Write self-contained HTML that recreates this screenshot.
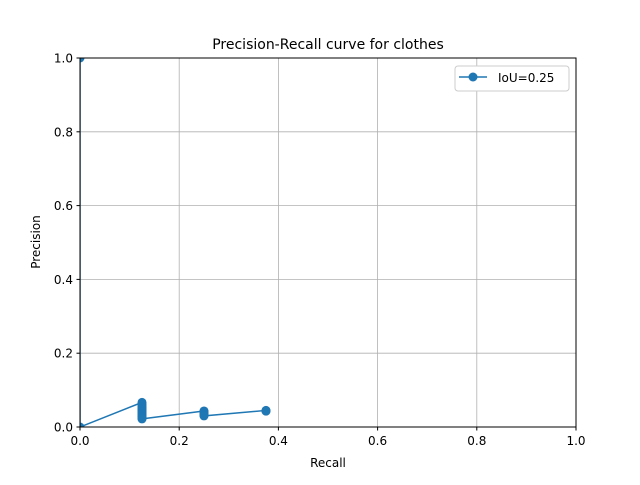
<!DOCTYPE html>
<html><head><meta charset="utf-8"><style>
body{margin:0;background:#fff}
svg{font-family:"DejaVu Sans","Liberation Sans",sans-serif}
</style></head><body>
<svg id="chart" width="640" height="480">
<defs><clipPath id="pc"><rect x="80" y="58" width="496" height="369"/></clipPath></defs>
<rect width="640" height="480" fill="#fff"/>
<g id="grid"></g>
<g id="ticks"></g>
<g id="series" clip-path="url(#pc)"></g>
<rect x="80" y="58" width="496" height="369" fill="none" stroke="#000" stroke-width="1"/>
<text x="328" y="49" text-anchor="middle" font-size="14">Precision-Recall curve for clothes</text>
<text x="328" y="467" text-anchor="middle" font-size="12">Recall</text>
<text transform="translate(40,242) rotate(-90)" text-anchor="middle" font-size="12">Precision</text>
<g>
<rect x="455" y="66" width="114" height="25" rx="3" fill="#fff" stroke="#ccc"/>
<line x1="459" y1="77" x2="487" y2="77" stroke="#1f77b4" stroke-width="1.5"/>
<circle cx="473" cy="77" r="4.5" fill="#1f77b4"/>
<text x="498" y="82" font-size="12">IoU=0.25</text>
</g>
</svg>
<script>
const xTicks=[0,0.2,0.4,0.6,0.8,1.0];
const yTicks=[0,0.2,0.4,0.6,0.8,1.0];
const recall=[0,0,0.125,0.125,0.125,0.125,0.125,0.125,0.125,0.125,0.125,0.125,0.125,0.125,0.125,0.125,0.125,0.125,0.125,0.125,0.125,0.25,0.25,0.25,0.25,0.25,0.25,0.25,0.25,0.375,0.375,0.375];
const precision=[1,0,0.0667,0.0625,0.0588,0.0556,0.0526,0.05,0.0476,0.0455,0.0435,0.0417,0.04,0.037,0.0345,0.0323,0.03,0.028,0.026,0.024,0.022,0.0435,0.042,0.04,0.038,0.036,0.034,0.032,0.030,0.045,0.044,0.043];
const NS="http://www.w3.org/2000/svg";
const X=v=>80+v*496, Y=v=>427-v*369;
function mk(t,a,p){const e=document.createElementNS(NS,t);for(const k in a)e.setAttribute(k,a[k]);p.appendChild(e);return e;}
const grid=document.getElementById('grid'),ticks=document.getElementById('ticks'),series=document.getElementById('series');
xTicks.forEach(v=>{
 const g=mk('line',{x1:X(v),x2:X(v),y1:58,y2:427,stroke:'#b0b0b0','stroke-width':0.8},grid);
 
 
 mk('line',{x1:X(v),x2:X(v),y1:427,y2:430.5,stroke:'#000'},ticks);
 const t=mk('text',{x:X(v),y:445,'text-anchor':'middle','font-size':12},ticks);
 t.textContent=v.toFixed(1);
 
 
});
yTicks.forEach(v=>{
 const g=mk('line',{x1:80,x2:576,y1:Y(v),y2:Y(v),stroke:'#b0b0b0','stroke-width':0.8},grid);
 
 
 mk('line',{x1:76.5,x2:80,y1:Y(v),y2:Y(v),stroke:'#000'},ticks);
 const t=mk('text',{x:73,y:Y(v)+4.5,'text-anchor':'end','font-size':12},ticks);
 t.textContent=v.toFixed(1);
 
 
});
const pts=recall.map((r,i)=>X(r)+','+Y(precision[i])).join(' ');
const pl=mk('polyline',{points:pts,fill:'none',stroke:'#1f77b4','stroke-width':1.5},series);


recall.forEach((r,i)=>{
 const c=mk('circle',{cx:X(r),cy:Y(precision[i]),r:4.5,fill:'#1f77b4'},series);
 
 
});
</script>
</body></html>
